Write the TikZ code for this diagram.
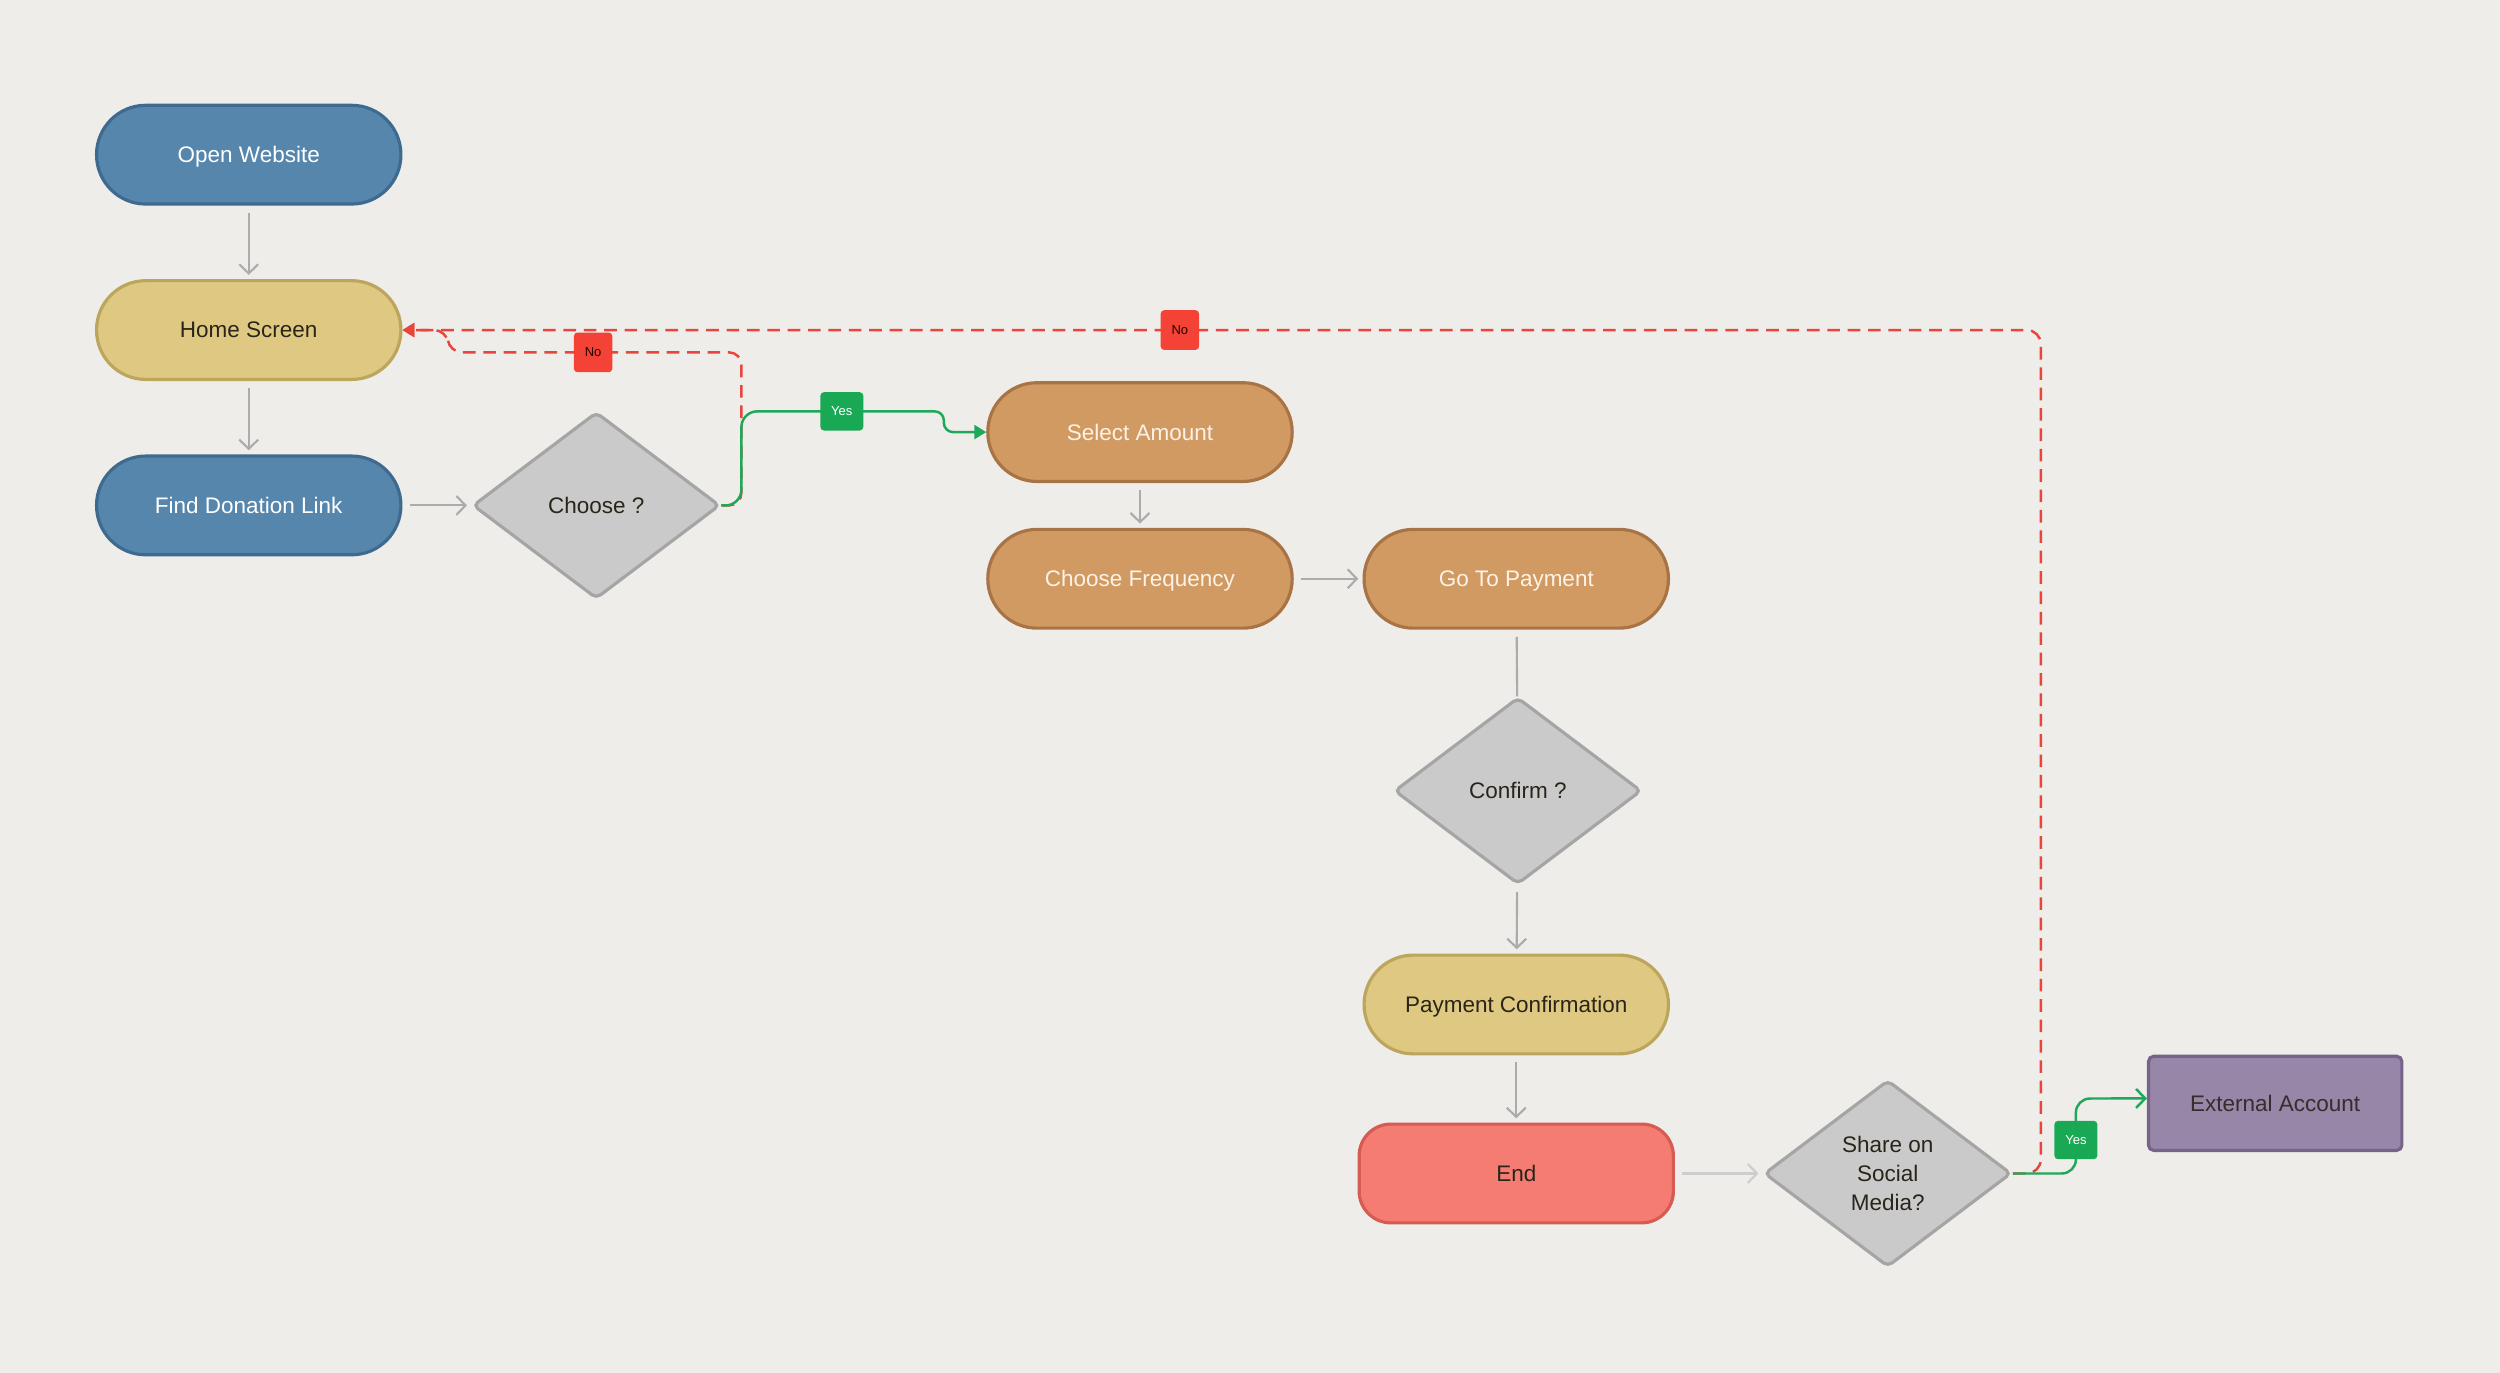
\documentclass[tikz,border=0pt]{standalone}
\usepackage{fontspec}
\setmainfont{Liberation Sans}
\usetikzlibrary{shapes.geometric,arrows.meta}
\definecolor{bgc}{HTML}{EFEDE9}
\definecolor{bluef}{HTML}{5686AC}
\definecolor{blued}{HTML}{3E6A90}
\definecolor{yelf}{HTML}{DFC982}
\definecolor{yeld}{HTML}{BCA55C}
\definecolor{orf}{HTML}{D19A62}
\definecolor{ord}{HTML}{A87446}
\definecolor{redf}{HTML}{F47C72}
\definecolor{redd}{HTML}{D55B53}
\definecolor{dmf}{HTML}{CBCACB}
\definecolor{dmd}{HTML}{A6A5A6}
\definecolor{purf}{HTML}{9886A8}
\definecolor{purd}{HTML}{74648A}
\definecolor{greyln}{HTML}{ABABAB}
\definecolor{lightln}{HTML}{CDCDCD}
\definecolor{redln}{HTML}{E8453C}
\definecolor{grnln}{HTML}{1FA85A}
\definecolor{nolab}{HTML}{F44336}
\definecolor{yeslab}{HTML}{19A955}
\definecolor{darktxt}{HTML}{2A2519}
\definecolor{creamtxt}{HTML}{FCF2E6}
\begin{document}
\begin{tikzpicture}[x=0.45365pt,y=-0.45365pt,
  base/.style={font=\fontsize{6.4}{8.2}\selectfont, line width=0.9pt, inner sep=0pt, align=center, text depth=0pt},
  pill/.style={base, rectangle, rounded corners=14pt, minimum width=86.6pt, minimum height=28.1pt},
  bluepill/.style={pill, fill=bluef, draw=blued, text=white},
  yelpill/.style={pill, fill=yelf, draw=yeld, text=darktxt},
  orpill/.style={pill, fill=orf, draw=ord, text=creamtxt},
  endbox/.style={base, rectangle, rounded corners=9pt, minimum width=89.4pt, minimum height=28.1pt, fill=redf, draw=redd, text=darktxt},
  decision/.style={base, diamond, rounded corners=1.5pt, minimum width=70.3pt, minimum height=53.1pt, fill=dmf, draw=dmd, text=darktxt},
  extbox/.style={base, rectangle, rounded corners=1.5pt, minimum width=72.1pt, minimum height=26.8pt, fill=purf, draw=purd, text=darktxt!85!purd},
  garrow/.style={draw=greyln, line width=0.6pt, -{Straight Barb[length=2.6pt,width=5.4pt]}, shorten <=2pt, shorten >=1.2pt},
  gline/.style={draw=greyln, line width=0.6pt, shorten <=2pt},
  redpath/.style={draw=redln, line width=0.7pt, dash pattern=on 3.6pt off 2.2pt, -{Triangle[length=3.4pt,width=4pt]}},
  grnpath/.style={draw=grnln, line width=0.7pt},
  nolabel/.style={fill=nolab, rounded corners=1pt, minimum width=10.9pt, minimum height=11.3pt, inner sep=0pt, font=\fontsize{3.7}{4}\selectfont, text=black!85!red},
  yeslabel/.style={fill=yeslab, rounded corners=1pt, minimum width=12.2pt, minimum height=10.9pt, inner sep=0pt, font=\fontsize{3.7}{4}\selectfont, text=white}
]
\fill[bgc] (0,0) rectangle (1568,861);
\useasboundingbox (0,0) rectangle (1568,861);

% nodes
\node[bluepill] (ow) at (156,97) {Open Website};
\node[yelpill] (hs) at (156,207) {Home Screen};
\node[bluepill] (fd) at (156,317) {Find Donation Link};
\node[decision] (ch) at (374,317) {Choose ?};
\node[orpill] (sa) at (715,271) {Select Amount};
\node[orpill] (cq) at (715,363) {Choose Frequency};
\node[orpill] (gp) at (951,363) {Go To Payment};
\node[decision] (cf) at (952,496) {Confirm ?};
\node[yelpill] (pc) at (951,630) {Payment Confirmation};
\node[endbox] (en) at (951,736) {End};
\node[decision] (sh) at (1184,736) {Share on\\Social\\Media?};
\node[extbox] (ea) at (1427,692) {External Account};

% grey connectors
\draw[garrow] (ow) -- (hs);
\draw[garrow] (hs) -- (fd);
\draw[garrow] (fd) -- (ch);
\draw[garrow] (sa) -- (cq);
\draw[garrow] (cq) -- (gp);
\draw[gline] (gp) -- (cf);
\draw[garrow] (cf) -- (pc);
\draw[garrow] (pc) -- (en);
\draw[garrow, draw=lightln] (en) -- (sh);

% red dashed "No" paths
\draw[redpath, rounded corners=3.5pt] (ch.east) -- (465,317) -- (465,221) -- (282,221) -- (280,207) -- (hs.east);
\draw[redpath, rounded corners=4pt] (sh.east) -- (1280,736) -- (1280,207) -- (hs.east);

% green "Yes" paths
\draw[grnpath, -{Triangle[length=3.4pt,width=4pt]}] (ch.east) [rounded corners=4.5pt] -- (465,317) -- (465,258) [rounded corners=2.6pt] -- (592,258) -- (592,271) -- (sa.west);
\draw[grnpath, -{Straight Barb[length=2.6pt,width=5.4pt]}] (sh.east) [rounded corners=4pt] -- (1302,736) -- (1302,689) -- ([yshift=1.4pt]ea.west);

% labels
\node[nolabel] (no1) at (372,221) {No};
\node[nolabel] (no2) at (740,207) {No};
\node[yeslabel] (yes1) at (528,258) {Yes};
\node[yeslabel] (yes2) at (1302,715) {Yes};
\end{tikzpicture}
\end{document}
